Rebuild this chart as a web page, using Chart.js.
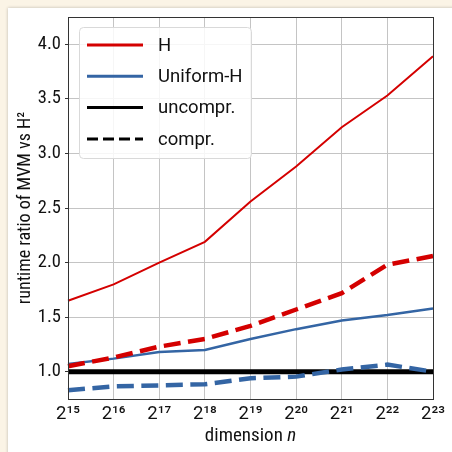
<!DOCTYPE html>
<html>
<head>
<meta charset="utf-8">
<script src="https://cdn.jsdelivr.net/npm/chart.js@4/dist/chart.umd.min.js"></script>
<style>
html, body { margin: 0; padding: 0; width: 452px; height: 452px; overflow: hidden; background: #fbf4e6; }
#card { position: absolute; left: 8px; top: 8px; width: 470px; height: 470px; background: #fff; box-shadow: 0 0 3px rgba(0,0,0,0.25); }
#wrap { position: absolute; left: 0; top: 0; width: 452px; height: 452px; }
</style>
</head>
<body>
<div id="card"></div>
<div id="wrap"><canvas id="chart" width="452" height="452"></canvas></div>
<script>
// x: dimension n = 2^15 ... 2^23
const xLabels = ["2¹⁵", "2¹⁶", "2¹⁷", "2¹⁸", "2¹⁹", "2²⁰", "2²¹", "2²²", "2²³"]
const yTicks = [1.0, 1.5, 2.0, 2.5, 3.0, 3.5, 4.0]

// runtime ratio of MVM vs H²
const hUncompr = [1.65, 1.80, 2.00, 2.19, 2.56, 2.88, 3.24, 3.53, 3.89]
const hCompr = [1.05, 1.13, 1.23, 1.30, 1.42, 1.57, 1.72, 1.98, 2.06]
const uniUncompr = [1.07, 1.12, 1.18, 1.20, 1.30, 1.39, 1.47, 1.52, 1.58]
const uniCompr = [0.83, 0.865, 0.875, 0.885, 0.94, 0.955, 1.02, 1.065, 1.00]
const reference = [1, 1, 1, 1, 1, 1, 1, 1, 1]

const legendNames = ["H", "Uniform-H", "uncompr.", "compr."]

const FONT = "'Roboto Condensed', 'Liberation Sans Narrow', 'DejaVu Sans Condensed', sans-serif"
const FONT_R = "Roboto, 'Noto Sans', sans-serif"
const RED = "#d40000"
const BLUE = "#3465a4"

Chart.defaults.font.family = FONT
Chart.defaults.color = "#111"

const legendStyles = [
    { color: RED, dash: [] },
    { color: BLUE, dash: [] },
    { color: "#000", dash: [] },
    { color: "#000", dash: [11, 5] }
]

// box frame around the plot area (all 4 sides)
const frame = {
    id: "frame",
    afterDatasetsDraw(chart) {
        const { ctx, chartArea: a } = chart
        ctx.save()
        ctx.strokeStyle = "#333"
        ctx.lineWidth = 1
        ctx.strokeRect(Math.round(a.left) + 0.5, Math.round(a.top) + 0.5, Math.round(a.right - a.left), Math.round(a.bottom - a.top))
        ctx.restore()
    }
}

// legend drawn inside the axes, upper left
const legendBox = {
    id: "legendBox",
    afterDatasetsDraw(chart) {
        const { ctx, chartArea: a } = chart
        const x0 = a.left + 11, y0 = a.top + 10
        ctx.save()
        ctx.beginPath()
        ctx.roundRect(x0 + 0.5, y0 + 0.5, 172, 131, 4)
        ctx.fillStyle = "rgba(255,255,255,0.85)"
        ctx.fill()
        ctx.strokeStyle = "#d9d9d9"
        ctx.lineWidth = 1
        ctx.stroke()
        ctx.font = "18.5px " + FONT_R
        ctx.textBaseline = "middle"
        legendNames.forEach((name, i) => {
            const y = y0 + 18 + i * 31.3
            ctx.beginPath()
            ctx.setLineDash(legendStyles[i].dash)
            ctx.strokeStyle = legendStyles[i].color
            ctx.lineWidth = 3
            ctx.moveTo(x0 + 8, y)
            ctx.lineTo(x0 + 64, y)
            ctx.stroke()
            ctx.setLineDash([])
            ctx.fillStyle = "#111"
            ctx.fillText(name, x0 + 79, y + 1)
        })
        ctx.restore()
    }
}

// x axis title with italic n
const xTitle = {
    id: "xTitle",
    afterDraw(chart) {
        const { ctx, chartArea: a } = chart
        const t1 = "dimension ", t2 = "n"
        ctx.save()
        ctx.fillStyle = "#111"
        ctx.textBaseline = "alphabetic"
        ctx.font = "19px " + FONT
        const w1 = ctx.measureText(t1).width
        ctx.font = "italic 19px " + FONT
        const w2 = ctx.measureText(t2).width
        const x = (a.left + a.right) / 2 - (w1 + w2) / 2
        ctx.font = "19px " + FONT
        ctx.fillText(t1, x, a.bottom + 42)
        ctx.font = "italic 19px " + FONT
        ctx.fillText(t2, x + w1, a.bottom + 42)
        ctx.restore()
    }
}

const lineDs = (label, data, color, width, dash, order) => ({
    label: label,
    data: data,
    borderColor: color,
    backgroundColor: color,
    borderWidth: width,
    borderDash: dash,
    pointRadius: 0,
    tension: 0,
    fill: false,
    order: order
})

new Chart(document.getElementById("chart"), {
    type: "line",
    data: {
        labels: xLabels,
        datasets: [
            lineDs("uncompr.", reference, "#000", 5, [], 10),
            lineDs("H", hUncompr, RED, 2, [], 4),
            lineDs("Uniform-H", uniUncompr, BLUE, 2.5, [], 3),
            lineDs("H compr.", hCompr, RED, 4.5, [17, 7.5], 2),
            lineDs("Uniform-H compr.", uniCompr, BLUE, 4.5, [17, 7.5], 1)
        ]
    },
    options: {
        responsive: false,
        animation: false,
        layout: { padding: { left: 0, right: 19, top: 17, bottom: 0 } },
        plugins: {
            legend: { display: false },
            tooltip: { enabled: false }
        },
        scales: {
            x: {
                offset: false,
                grid: { color: "#c4c4c4", drawTicks: false, lineWidth: 1 },
                border: { display: false },
                ticks: { font: { size: 18.5, family: FONT_R }, padding: 4, maxRotation: 0, autoSkip: false },
                afterFit: s => { s.height = 53 }
            },
            y: {
                min: 0.75,
                max: 4.25,
                afterBuildTicks: s => { s.ticks = yTicks.map(v => ({ value: v })) },
                grid: { color: "#c4c4c4", drawTicks: true, tickLength: 3, tickColor: "#333", lineWidth: 1 },
                border: { display: false },
                ticks: { font: { size: 18.5 }, padding: 4, callback: v => v.toFixed(1) },
                title: {
                    display: true,
                    text: "runtime ratio of MVM vs H²",
                    font: { size: 18 },
                    padding: { top: 15, bottom: 0 }
                },
                afterFit: s => { s.width = 68 }
            }
        }
    },
    plugins: [frame, legendBox, xTitle]
})
</script>
</body>
</html>
